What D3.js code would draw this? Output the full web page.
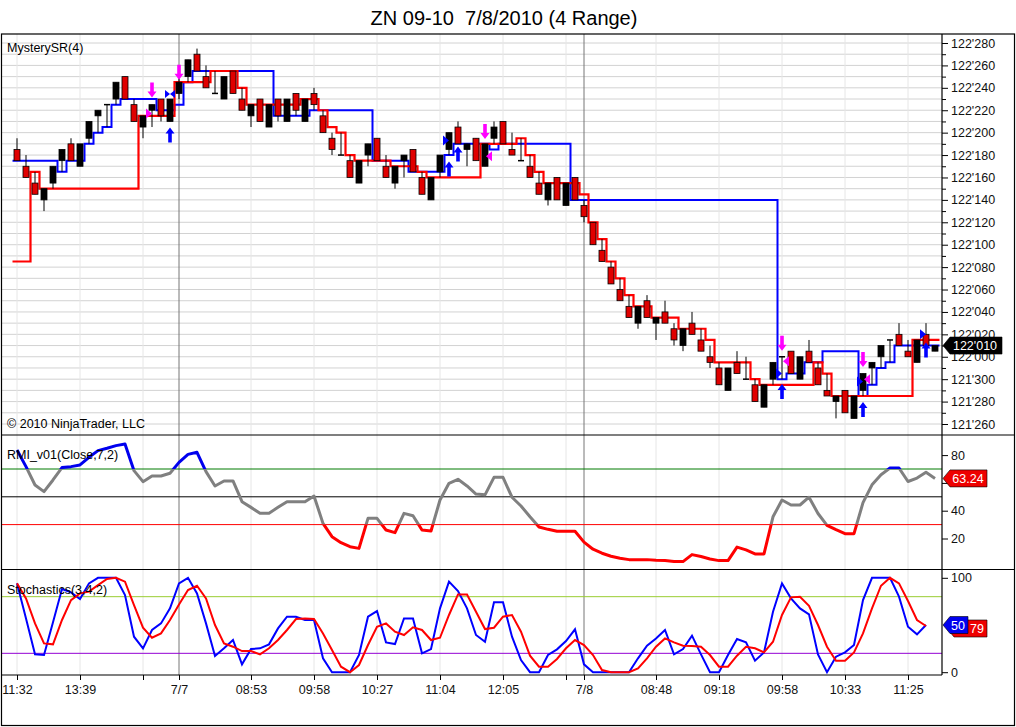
<!DOCTYPE html>
<html>
<head>
<meta charset="utf-8">
<script src="https://cdn.jsdelivr.net/npm/d3@7"></script>
<style>
  body { margin: 0; background: #fff; }
  svg { display: block; font-family: "Liberation Sans", Arial, sans-serif; }
  .title { white-space: pre; }
</style>
</head>
<body>
<svg id="chart"></svg>
<script>
// prices are in 32nds above 121 (26 -> 121'260, 33 -> 122'010)
const opens  = [50.5,49,47.5,46,47.5,49.5,51,49,51.5,53.5,54.5,55,57,54.5,52.5,54,55,53,55.5,57,
  59,57,55.5,55,57.5,55,53.5,55,52.5,55,53,55.5,53,55.5,53.5,51.5,50,49.5,47.5,50,
  51.5,49,47.5,49.5,50.5,48,46,48.5,50.5,52.5,50.5,51.5,49,51.5,53,50.5,49.5,49,47.5,46,
  48,45.5,48,45.5,44,41.5,40,38,36.5,35,37,35,36,34.5,33,35,33.5,32,31,29,
  31.5,30,29.5,27.5,30,32,32.5,30,32.5,31,29,28,29,26.5,29,31,32,33.5,34,32.5,
  31.5,34,32.5];
const highs  = [51.5,50,48.5,47,49,50.5,51.5,51,53,54,54.5,56.5,57,55,53.5,54.5,55,55,57,58.5,
  59.5,58,57.5,57,57.5,56,54.5,55,54.5,55,55,55.5,55,56,54,52,52,50,49.5,51,
  51.5,50,49,50,50.5,48.5,48,50,52,53,51,51.5,51,53,53,52,51.5,50,48.5,47.5,
  48,47.5,48,46,44,42.5,40.5,39,37.5,36.5,37.5,35.5,37,35,34.5,36,34.5,33,31.5,31,
  32.5,32,30,29.5,31.5,32,32.5,32,33.5,31.5,30.5,28.5,29,28.5,30.5,31.5,33,33.5,35,33.5,
  33.5,35,33];
const lows   = [49.5,48,46.5,45,47,48.5,49.5,49,51,52,52.5,54.5,55,53,51.5,52.5,53,53,55,56.5,
  57.5,56,55.5,55,55.5,54,52.5,53,52.5,53,53,53.5,53,54,52,50,50,48,47.5,49,
  49.5,48,47,48,48.5,46.5,46,48,50,51,49,49.5,49,51,51,50,49.5,48,46.5,45.5,
  46,45.5,46,44,42,40.5,38.5,37,35.5,34.5,35.5,33.5,35,33,32.5,34,32.5,31,29.5,29,
  30.5,30,28,27.5,29.5,30,30.5,30,31.5,29.5,28.5,26.5,27,26.5,28.5,29.5,31,31.5,33,32,
  31.5,33,32.5];
const closes = [49.5,48,46.5,47,49,50.5,49.5,51,53,54,54.5,56.5,55,53,53.5,54.5,53.5,55,56.5,58.5,
  57.5,56,55.5,57,55.5,54,54.5,53,54.5,53.5,55,54,55,54.5,52,50.5,50,48,49.5,51,
  49.5,48,49,50,48.5,46.5,48,50,52,51,51,49.5,51,52.5,51,50,49.5,48,46.5,47.5,
  46,47.5,46,44.5,42,40.5,38.5,37,35.5,36.5,35.5,35.5,35,33.5,34.5,34,32.5,31.5,29.5,31,
  30.5,30,28,29.5,31.5,32,30.5,32,31.5,29.5,28.5,28.5,27,28.5,30.5,31.5,33,33.5,33,32,
  33.5,33,33];

// MysterySR resistance (blue) and support (red) steps, one value per bar
const resistance = [49.5,49.5,49.5,49.5,49.5,48.5,49.5,49.5,51,52,52.5,54.5,55,55,55,55,54,54,54.5,56.5,
  57.5,57.5,57.5,57.5,57.5,57.5,57.5,57.5,57.5,53.5,53.5,53.5,53.5,54,54,54,54,54,54,54,
  49.5,49.5,49.5,49.5,48.5,48.5,48.5,48.5,50,51,51,51,51,50.5,51,51,51,51,51,51,
  51,51,46,46,46,46,46,46,46,46,46,46,46,46,46,46,46,46,46,46,
  46,46,46,46,46,30,30.5,30.5,31.5,31.5,32.5,32.5,32.5,32.5,28.5,29.5,31,31.5,33,33,
  33,33,33];
const support = [40.5,40.5,48.5,47,47,47,47,47,47,47,47,47,47,47,53.5,53.5,53.5,53.5,56.5,56.5,
  56.5,56.5,57.5,57.5,57.5,56,54.5,54.5,54.5,54.5,54.5,54.5,55,55,54,52.5,52,50,49.5,49.5,
  49.5,49.5,49,49,49,48.5,48,48,48,48,48,48,51,51,51,51,51.5,50,48.5,47.5,
  47.5,47.5,47.5,46.5,44,42.5,40.5,39,37.5,36.5,36.5,35.5,35.5,35.5,34.5,34.5,34.5,33.5,31.5,31.5,
  31.5,31.5,30,29.5,29.5,29.5,29.5,29.5,29.5,31.5,30.5,28.5,28.5,28.5,28.5,28.5,28.5,28.5,28.5,28.5,
  33.5,33.5,33.5];

// signal markers
const markerBars   = [15, 15, 17, 17, 18, 48, 48, 49, 52, 52, 85, 85, 85, 85, 94, 94, 94, 94, 101, 101];
const markerTypes  = ["down","triR","bowtie","up","down","triR","up","up","down","triL",
  "down","triL","triR","up","down","triL","triR","up","triR","up"];
const markerValues = [55.8,53.7,55.45,51.8,57.4,51.3,48.75,50.1,52.1,49.9,
  33.2,31.6,30.5,28.9,31.75,30.0,29.8,27.3,34.0,32.6];
const markerColors = ["#ff00ff","#ff00ff","#0000ff","#0000ff","#ff00ff","#0000ff","#0000ff","#0000ff","#ff00ff","#ff00ff",
  "#ff00ff","#ff00ff","#0000ff","#0000ff","#ff00ff","#ff00ff","#0000ff","#0000ff","#0000ff","#0000ff"];

const rmi = [83.7,71.7,58.5,53.7,62.1,71,71.7,72.9,78.4,83.2,84.9,86.8,88,68.8,60.9,65,65,66.9,74.8,80.5,
  82,68.1,57.8,61.4,61.4,46.5,42.4,38.1,38.1,42.4,46.5,46.5,46.5,50.6,30.9,21.3,17,14.1,12.9,34.5,
  34.5,26.1,24.2,38.1,36.4,26.1,25.4,47.7,59.7,62.6,57.8,52,51.4,64,64,49.7,43.4,35.6,28.3,26.6,
  25.2,25.2,25.2,17.4,12.3,9.4,7.2,5.8,4.8,4.8,4.8,4.3,4.1,3.4,3.4,8.4,7,5.3,4.1,4.1,
  13.8,11.8,8.9,8.9,35.6,47.7,44.1,44.1,49.7,38,29.5,26.4,23.5,23.5,45.8,58.6,65.9,70.7,70.7,61,
  63.5,67.6,63.24];

const stochK = [94.1,57,18.9,18.2,52.8,88.1,84.6,77.5,94.1,100,100,100,81.7,37.6,25.3,44.7,51.7,67.6,94.1,100,
  83.5,51.7,17.1,25.3,34.1,8.3,24.5,25.3,29.5,46.4,58.8,58.8,55.3,55.3,14.7,0,0,0,18.2,58.8,
  64.8,31.6,29.8,57,57,20,24.5,67.6,95.9,86,67.6,39.4,32.3,74,74,37.6,12.9,0,0,18.2,
  24.2,33,45.4,8.3,0,0,0,0,0,14.7,28.1,35.8,44.7,18.9,24.5,38.7,18.9,0,0,18.2,
  35.1,31.6,12.2,21,64.1,94.1,78.2,67.6,61.3,18.9,0,16.4,21,28.8,76.4,100,100,100,80,48.2,
  40.1,50];
const stochD = [94.1,78.2,51.7,30.5,29.5,55.3,76.4,83.5,85.3,92.3,98.7,100,95.9,71.1,47.1,36.5,41.1,55.3,71.8,87,
  91.6,78.2,50,30.5,27,22.4,22.4,18.9,25.3,34.1,44.7,56.3,57,56.3,41.1,23.5,5.8,0,7.6,28.8,
  48.2,51.7,42.9,39.4,47.5,44.7,34.1,36.5,60.6,82.4,82.4,64.1,45.7,47.1,58.8,60.6,42.9,17.5,5.8,5.8,
  14,25.3,34.1,28.8,18.2,2.3,0,0,0,4.1,14.7,27,35.8,31.6,28.1,27.7,27,18.2,5.8,5.8,
  17.5,27,25.3,21,32.3,60.6,79.3,80,70.4,50,27,12.2,12.2,21,41.1,67.6,91.6,100,94.1,75.4,
  55.3,48.9];

// x axis ticks (bar index) and their labels
const tickBars   = [0, 7, 14, 18, 26, 33, 40, 47, 54, 61, 63, 71, 78, 85, 92, 99];
const tickLabels = ["11:32","13:39","","7/7","08:53","09:58","10:27","11:04","12:05","","7/8","08:48","09:18","09:58","10:33","11:25"];
const sessionBars = [18, 63];
const rmiTicks = [20, 40, 60, 80];
const rmiLevels = [70, 50, 30];
const stochTicks = [0, 100];
const stochLevels = [80, 20];

const W = 1016, H = 727;
const left = 1, axisX = 942;
const mainTop = 34, mainBottom = 435, rmiBottom = 569.5, stochBottom = 675;

const svg = d3.select("#chart").attr("width", W).attr("height", H);

const x = d3.scaleLinear().domain([0, 102]).range([17, 935]);
const yP = d3.scaleLinear().domain([26, 60]).range([424, 43]);
const yR = d3.scaleLinear().domain([0, 100]).range([566.3, 427.3]);
const yS = d3.scaleLinear().domain([0, 100]).range([672.2, 577.8]);

function fmtPrice(v) {
  const h = Math.floor(v / 32);
  const t = v - h * 32;
  return (121 + h) + "'" + String(Math.round(t * 10)).padStart(3, "0");
}

// clip areas
const defs = svg.append("defs");
function clip(id, y0, y1) {
  defs.append("clipPath").attr("id", id).append("rect")
    .attr("x", left).attr("y", y0).attr("width", axisX - left).attr("height", y1 - y0);
}
clip("clipMain", mainTop, mainBottom);
clip("clipRmi", mainBottom, rmiBottom);
clip("clipStoch", rmiBottom, stochBottom);
clip("clipRmiHi", mainBottom, yR(70));
clip("clipRmiMid", yR(70), yR(30));
clip("clipRmiLo", yR(30), rmiBottom);

// title
svg.append("text").attr("class", "title").attr("x", 504).attr("y", 25).attr("text-anchor", "middle")
  .attr("font-size", 20).attr("fill", "#000").text("ZN 09-10  7/8/2010 (4 Range)");

// horizontal price grid
svg.append("g").selectAll("line").data(d3.range(26, 61)).join("line")
  .attr("x1", left).attr("x2", axisX)
  .attr("y1", d => yP(d)).attr("y2", d => yP(d))
  .attr("stroke", "#d2d2d2").attr("stroke-width", 1);

// vertical grid + session lines over all panels
svg.append("g").selectAll("line").data(tickBars.filter(b => !sessionBars.includes(b))).join("line")
  .attr("x1", d => x(d)).attr("x2", d => x(d))
  .attr("y1", mainTop).attr("y2", stochBottom)
  .attr("stroke", "#e6e6e6").attr("stroke-width", 1);
svg.append("g").selectAll("line").data(sessionBars).join("line")
  .attr("x1", d => x(d)).attr("x2", d => x(d))
  .attr("y1", mainTop).attr("y2", stochBottom)
  .attr("stroke", "#777").attr("stroke-width", 1);

// ---------- main panel ----------
const main = svg.append("g").attr("clip-path", "url(#clipMain)");

// support / resistance step lines
const stepLine = d3.line().x(d => d[0]).y(d => yP(d[1])).curve(d3.curveStepAfter);
function stepPts(arr) {
  const pts = arr.map((v, i) => [x(i) - 4.5, v]);
  pts.push([x(arr.length - 1) + 4.5, arr[arr.length - 1]]);
  return pts;
}
main.append("path").attr("d", stepLine(stepPts(resistance)))
  .attr("fill", "none").attr("stroke", "#0000ff").attr("stroke-width", 2);
main.append("path").attr("d", stepLine(stepPts(support)))
  .attr("fill", "none").attr("stroke", "#ff0000").attr("stroke-width", 2.2);

// candles
const bars = d3.range(opens.length);
const candle = main.append("g").selectAll("g").data(bars).join("g");
candle.append("line")
  .attr("x1", i => x(i)).attr("x2", i => x(i))
  .attr("y1", i => yP(highs[i])).attr("y2", i => yP(lows[i]))
  .attr("stroke", "#000").attr("stroke-width", 1);
candle.filter(i => opens[i] !== closes[i]).append("rect")
  .attr("x", i => x(i) - 3).attr("width", 6)
  .attr("y", i => yP(Math.max(opens[i], closes[i])))
  .attr("height", i => Math.abs(yP(opens[i]) - yP(closes[i])))
  .attr("fill", i => closes[i] < opens[i] ? "#e00000" : "#000")
  .attr("stroke", "#000").attr("stroke-width", 0.8);
candle.filter(i => opens[i] === closes[i]).append("line")
  .attr("x1", i => x(i) - 3).attr("x2", i => x(i) + 3)
  .attr("y1", i => yP(opens[i])).attr("y2", i => yP(opens[i]))
  .attr("stroke", "#000").attr("stroke-width", 1.5);

// markers
const shapes = {
  up: "M0,-7.5L4.5,-1.5L1.8,-1.5L1.8,7.5L-1.8,7.5L-1.8,-1.5L-4.5,-1.5Z",
  down: "M0,7.5L4.5,1.5L1.8,1.5L1.8,-7.5L-1.8,-7.5L-1.8,1.5L-4.5,1.5Z",
  triR: "M-3,-5L3,0L-3,5Z",
  triL: "M3,-5L-3,0L3,5Z",
  bowtie: "M-5,-4L0,0L-5,4ZM5,-4L0,0L5,4Z"
};
main.append("g").selectAll("path").data(markerBars.map((b, k) => k)).join("path")
  .attr("transform", k => {
    let dx = 0;
    if (markerTypes[k] === "triR") dx = -3;
    if (markerTypes[k] === "triL") dx = 4;
    return `translate(${x(markerBars[k]) + dx},${yP(markerValues[k])})`;
  })
  .attr("d", k => shapes[markerTypes[k]])
  .attr("fill", k => markerColors[k]);

svg.append("text").attr("x", 7).attr("y", 52).attr("font-size", 12.5).text("MysterySR(4)");
svg.append("text").attr("x", 7).attr("y", 428).attr("font-size", 12.5).text("\u00a9 2010 NinjaTrader, LLC");

// price axis
svg.append("g").attr("transform", `translate(${axisX},0)`)
  .call(d3.axisRight(yP).tickValues(d3.range(26, 61, 2)).tickFormat(fmtPrice).tickSize(6).tickPadding(3))
  .call(g => g.select(".domain").remove())
  .call(g => g.selectAll("text").attr("font-size", 12.5).attr("font-family", "Liberation Sans, Arial, sans-serif").attr("fill", "#111"));
svg.append("g").attr("transform", `translate(${axisX},0)`)
  .call(d3.axisRight(yP).tickValues(d3.range(27, 61, 2)).tickFormat("").tickSize(4))
  .call(g => g.select(".domain").remove());

// ---------- RMI panel ----------
const rmiG = svg.append("g").attr("clip-path", "url(#clipRmi)");
const levelColorR = {70: "#007a00", 50: "#000", 30: "#ff0000"};
rmiG.selectAll("line.lvl").data(rmiLevels).join("line")
  .attr("x1", left).attr("x2", axisX)
  .attr("y1", d => yR(d)).attr("y2", d => yR(d))
  .attr("stroke", d => levelColorR[d]).attr("stroke-width", 1);
const rmiLine = d3.line().x((d, i) => x(i)).y(d => yR(d));
[["clipRmiHi", "#0000ee"], ["clipRmiMid", "#808080"], ["clipRmiLo", "#ff0000"]].forEach(([c, col]) => {
  svg.append("path").attr("clip-path", `url(#${c})`).attr("d", rmiLine(rmi))
    .attr("fill", "none").attr("stroke", col).attr("stroke-width", 3).attr("stroke-linejoin", "round");
});
svg.append("text").attr("x", 7).attr("y", 459).attr("font-size", 12.5).text("RMI_v01(Close,7,2)");
svg.append("g").attr("transform", `translate(${axisX},0)`)
  .call(d3.axisRight(yR).tickValues(rmiTicks).tickSize(6).tickPadding(3))
  .call(g => g.select(".domain").remove())
  .call(g => g.selectAll("text").attr("font-size", 12.5).attr("font-family", "Liberation Sans, Arial, sans-serif").attr("fill", "#111"));

// ---------- Stochastics panel ----------
const stG = svg.append("g").attr("clip-path", "url(#clipStoch)");
const levelColorS = {80: "#9acd32", 20: "#9400d3"};
stG.selectAll("line.lvl").data(stochLevels).join("line")
  .attr("x1", left).attr("x2", axisX)
  .attr("y1", d => yS(d)).attr("y2", d => yS(d))
  .attr("stroke", d => levelColorS[d]).attr("stroke-width", 1);
const stLine = d3.line().x((d, i) => x(i)).y(d => yS(d));
stG.append("path").attr("d", stLine(stochK)).attr("fill", "none").attr("stroke", "#0000ff").attr("stroke-width", 2);
stG.append("path").attr("d", stLine(stochD)).attr("fill", "none").attr("stroke", "#ff0000").attr("stroke-width", 2);
svg.append("text").attr("x", 7).attr("y", 594).attr("font-size", 12.5).text("Stochastics(3,4,2)");
svg.append("g").attr("transform", `translate(${axisX},0)`)
  .call(d3.axisRight(yS).tickValues(stochTicks).tickSize(6).tickPadding(3))
  .call(g => g.select(".domain").remove())
  .call(g => g.selectAll("text").attr("font-size", 12.5).attr("font-family", "Liberation Sans, Arial, sans-serif").attr("fill", "#111"));

// x axis
svg.append("g").attr("transform", `translate(0,${stochBottom})`)
  .call(d3.axisBottom(x).tickValues(tickBars).tickFormat((d, k) => tickLabels[k]).tickSize(5).tickPadding(5))
  .call(g => g.select(".domain").remove())
  .call(g => g.selectAll("text").attr("font-size", 12.5).attr("font-family", "Liberation Sans, Arial, sans-serif").attr("fill", "#111"));

// frame and panel separators
const frame = svg.append("g").attr("stroke", "#000").attr("stroke-width", 1.2).attr("fill", "none");
frame.append("rect").attr("x", 1.5).attr("y", mainTop).attr("width", 1013).attr("height", 691.5);
frame.append("line").attr("x1", 1).attr("x2", 1015).attr("y1", mainBottom).attr("y2", mainBottom);
frame.append("line").attr("x1", 1).attr("x2", 1015).attr("y1", rmiBottom).attr("y2", rmiBottom);
frame.append("line").attr("x1", 1).attr("x2", axisX).attr("y1", stochBottom).attr("y2", stochBottom);
frame.append("line").attr("x1", axisX).attr("x2", axisX).attr("y1", mainTop).attr("y2", stochBottom);

// value badges (drawn over the axis labels, as in the platform)
function badge(x0, x1, yc, fill, label, tx) {
  const g = svg.append("g");
  g.append("path")
    .attr("d", `M${x0},${yc}L${x0 + 7},${yc - 8.5}L${x1},${yc - 8.5}L${x1},${yc + 8.5}L${x0 + 7},${yc + 8.5}Z`)
    .attr("fill", fill).attr("stroke", "#000").attr("stroke-width", 0.6);
  g.append("text").attr("x", tx).attr("y", yc + 4.5).attr("text-anchor", "middle")
    .attr("font-size", 12.5).attr("fill", "#fff").text(label);
}
badge(943, 1002, yP(closes[closes.length - 1]), "#000", fmtPrice(closes[closes.length - 1]), 975);
badge(943, 987, yR(rmi[rmi.length - 1]), "#ee0000", rmi[rmi.length - 1].toFixed(2), 968);
badge(947, 987, yS(stochK[stochK.length - 1]) + 3.5, "#ee0000", "79", 977);
badge(943, 968, yS(stochK[stochK.length - 1]), "#0000ee", String(stochK[stochK.length - 1]), 958);
</script>
</body>
</html>
